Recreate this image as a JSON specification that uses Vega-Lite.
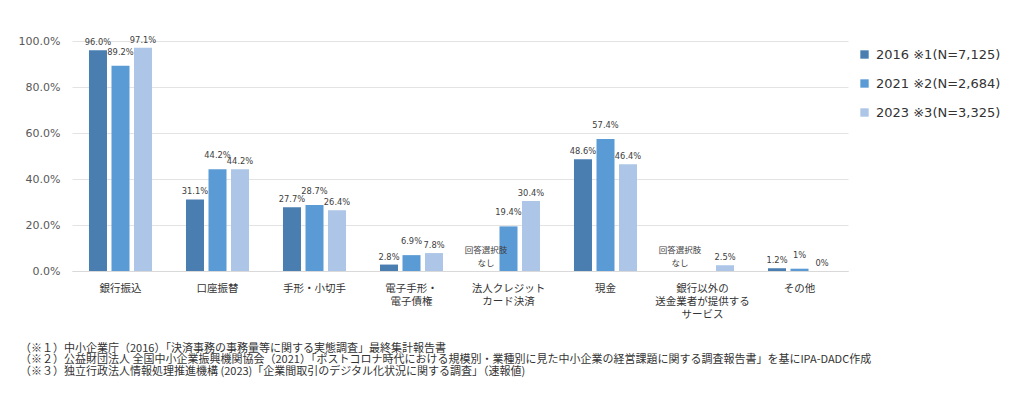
{
  "$schema": "https://vega.github.io/schema/vega-lite/v6.json",
  "autosize": "none",
  "width": 776,
  "height": 230,
  "padding": {"left": 72, "top": 41, "right": 176, "bottom": 132},
  "background": "white",
  "config": {
    "font": "DejaVu Sans, Noto Sans CJK JP",
    "view": {"stroke": null}
  },
  "title": {
    "text": ["（※１）中小企業庁（2016）「決済事務の事務量等に関する実態調査」最終集計報告書", "（※２）公益財団法人 全国中小企業振興機関協会（2021）「ポストコロナ時代における規模別・業種別に見た中小企業の経営課題に関する調査報告書」を基にIPA-DADC作成", "（※３）独立行政法人情報処理推進機構 (2023)「企業間取引のデジタル化状況に関する調査」（速報値)"],
    "orient": "bottom",
    "anchor": "start",
    "frame": "group",
    "align": "left",
    "dx": -52,
    "offset": 23,
    "fontSize": 11,
    "fontWeight": "normal",
    "lineHeight": 11.5,
    "color": "#333333",
    "font": "Noto Sans CJK JP"
  },
  "data": {
    "values": [
      {"category": "銀行振込", "series": "2016 ※1(N=7,125)", "value": 96.0, "label": "96.0%"},
      {"category": "銀行振込", "series": "2021 ※2(N=2,684)", "value": 89.2, "label": "89.2%"},
      {"category": "銀行振込", "series": "2023 ※3(N=3,325)", "value": 97.1, "label": "97.1%"},
      {"category": "口座振替", "series": "2016 ※1(N=7,125)", "value": 31.1, "label": "31.1%"},
      {"category": "口座振替", "series": "2021 ※2(N=2,684)", "value": 44.2, "label": "44.2%"},
      {"category": "口座振替", "series": "2023 ※3(N=3,325)", "value": 44.2, "label": "44.2%"},
      {"category": "手形・小切手", "series": "2016 ※1(N=7,125)", "value": 27.7, "label": "27.7%"},
      {"category": "手形・小切手", "series": "2021 ※2(N=2,684)", "value": 28.7, "label": "28.7%"},
      {"category": "手形・小切手", "series": "2023 ※3(N=3,325)", "value": 26.4, "label": "26.4%"},
      {"category": "電子手形・|電子債権", "series": "2016 ※1(N=7,125)", "value": 2.8, "label": "2.8%"},
      {"category": "電子手形・|電子債権", "series": "2021 ※2(N=2,684)", "value": 6.9, "label": "6.9%"},
      {"category": "電子手形・|電子債権", "series": "2023 ※3(N=3,325)", "value": 7.8, "label": "7.8%"},
      {"category": "法人クレジット|カード決済", "series": "2016 ※1(N=7,125)", "value": null, "note": "回答選択肢|なし"},
      {"category": "法人クレジット|カード決済", "series": "2021 ※2(N=2,684)", "value": 19.4, "label": "19.4%"},
      {"category": "法人クレジット|カード決済", "series": "2023 ※3(N=3,325)", "value": 30.4, "label": "30.4%"},
      {"category": "現金", "series": "2016 ※1(N=7,125)", "value": 48.6, "label": "48.6%"},
      {"category": "現金", "series": "2021 ※2(N=2,684)", "value": 57.4, "label": "57.4%"},
      {"category": "現金", "series": "2023 ※3(N=3,325)", "value": 46.4, "label": "46.4%"},
      {"category": "銀行以外の|送金業者が提供する|サービス", "series": "2016 ※1(N=7,125)", "value": null, "note": "回答選択肢|なし"},
      {"category": "銀行以外の|送金業者が提供する|サービス", "series": "2023 ※3(N=3,325)", "value": 2.5, "label": "2.5%"},
      {"category": "その他", "series": "2016 ※1(N=7,125)", "value": 1.2, "label": "1.2%"},
      {"category": "その他", "series": "2021 ※2(N=2,684)", "value": 1, "label": "1%"},
      {"category": "その他", "series": "2023 ※3(N=3,325)", "value": 0, "label": "0%"}
    ]
  },
  "encoding": {
    "x": {
      "field": "category",
      "type": "nominal",
      "sort": null,
      "scale": {"paddingInner": 0.35, "paddingOuter": 0.175},
      "axis": {
        "title": null,
        "labelAngle": 0,
        "labelExpr": "split(datum.label, '|')",
        "labelFontSize": 10.5,
        "labelLineHeight": 13,
        "labelColor": "#333333",
        "labelPadding": 12,
        "labelFont": "Noto Sans CJK JP",
        "ticks": false,
        "domain": true,
        "domainColor": "#d9d9d9",
        "labelBaseline": "top"
      }
    },
    "xOffset": {
      "field": "series",
      "type": "nominal",
      "scale": {"domain": ["2016 ※1(N=7,125)", "2021 ※2(N=2,684)", "2023 ※3(N=3,325)"], "paddingInner": 0.2, "paddingOuter": 0}
    }
  },
  "layer": [
    {
      "transform": [{"filter": "isValid(datum.value)"}],
      "mark": {"type": "bar"},
      "encoding": {
        "y": {
          "field": "value",
          "type": "quantitative",
          "scale": {"domain": [0, 100], "nice": false},
          "axis": {
            "title": null,
            "values": [0, 20, 40, 60, 80, 100],
            "labelExpr": "format(datum.value, '.1f') + '%'",
            "labelFontSize": 11,
            "labelColor": "#595959",
            "labelPadding": 12,
            "ticks": false,
            "domain": false,
            "grid": true,
            "gridColor": "#e3e3e3",
            "gridWidth": 1.2
          }
        },
        "color": {
          "field": "series",
          "type": "nominal",
          "scale": {"domain": ["2016 ※1(N=7,125)", "2021 ※2(N=2,684)", "2023 ※3(N=3,325)"], "range": ["#4a7eb0", "#5b9bd5", "#adc6e7"]},
          "legend": {
            "title": null,
            "orient": "none",
            "legendX": 786,
            "legendY": 7,
            "symbolType": "square",
            "symbolSize": 70,
            "symbolStrokeWidth": 0,
            "labelFontSize": 13,
            "labelColor": "#333333",
            "labelOffset": 5,
            "rowPadding": 15
          }
        }
      }
    },
    {
      "transform": [{"filter": "isValid(datum.value) && datum.series != '2021 ※2(N=2,684)'"}],
      "mark": {"type": "text", "baseline": "bottom", "dy": -3, "fontSize": 8.3, "color": "#404040"},
      "encoding": {
        "y": {"field": "value", "type": "quantitative"},
        "text": {"field": "label"}
      }
    },
    {
      "transform": [{"filter": "isValid(datum.value) && datum.series == '2021 ※2(N=2,684)'"}],
      "mark": {"type": "text", "baseline": "bottom", "dy": -9, "fontSize": 8.3, "color": "#404040"},
      "encoding": {
        "y": {"field": "value", "type": "quantitative"},
        "text": {"field": "label"}
      }
    },
    {
      "transform": [{"filter": "isValid(datum.note)"}],
      "mark": {"type": "text", "baseline": "bottom", "dy": -16, "fontSize": 8.5, "color": "#404040", "lineBreak": "|", "lineHeight": 13, "font": "Noto Sans CJK JP"},
      "encoding": {
        "y": {"datum": 0},
        "text": {"field": "note"}
      }
    }
  ]
}
